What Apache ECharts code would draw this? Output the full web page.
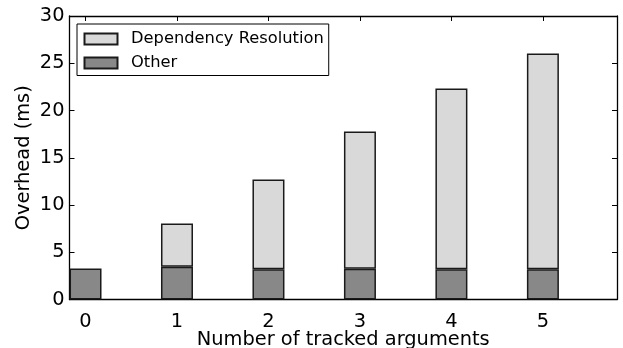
<!DOCTYPE html>
<html>
<head>
<meta charset="utf-8">
<script src="https://cdn.jsdelivr.net/npm/echarts@6/dist/echarts.min.js"></script>
<style>
  html, body { margin: 0; padding: 0; background: #fff; }
  #chart { width: 623px; height: 348px; }
</style>
</head>
<body>
<div id="chart"></div>
<script>
// Number of tracked arguments (x positions of the bars)
const argCounts = [0, 1, 2, 3, 4, 5];
// Overhead split into two stacked parts, in ms
const otherMs = [3.28, 3.47, 3.19, 3.26, 3.19, 3.19];
const dependencyMs = [null, 4.58, 9.51, 14.52, 19.14, 22.84];
// Axis ticks
const yTicks = [0, 5, 10, 15, 20, 25, 30];

const FONT = 'DejaVu Sans';
const INK = '#000';
const EDGE = '#1a1a1a';

const chart = echarts.init(document.getElementById('chart'), null, { renderer: 'canvas' });

const xCommon = {
  type: 'value',
  min: -0.175,
  max: 5.81,
  minInterval: 1,
  maxInterval: 1,
  splitLine: { show: false },
  axisLine: { show: true, onZero: false, lineStyle: { color: INK, width: 1.3 } },
  axisTick: { show: true, inside: true, length: 5, lineStyle: { color: INK, width: 1 } }
};
const yCommon = {
  type: 'value',
  min: yTicks[0],
  max: yTicks[yTicks.length - 1],
  interval: 5,
  splitLine: { show: false },
  axisLine: { show: true, onZero: false, lineStyle: { color: INK, width: 1.3 } },
  axisTick: { show: true, inside: true, length: 5, lineStyle: { color: INK, width: 1 } }
};

// Each point is [overhead, argument count]; the value comes first so the
// stack is computed on the overhead dimension.
function points(values) {
  return argCounts.map((x, i) => [values[i], x]);
}

chart.setOption({
  animation: false,
  textStyle: { fontFamily: FONT },
  grid: {
    left: 69.5, right: 6, top: 16, bottom: 48.5,
    containLabel: false,
    outerBoundsMode: 'none'
  },
  legend: {
    orient: 'vertical',
    left: 77,
    top: 24,
    padding: [7, 5, 4.5, 6.5],
    itemGap: 8,
    itemWidth: 33,
    itemHeight: 11,
    icon: 'rect',
    borderColor: INK,
    borderWidth: 1,
    textStyle: { fontFamily: FONT, fontSize: 16.3, color: INK, padding: [0, 0, 0, 8.5] },
    data: ['Dependency Resolution', 'Other']
  },
  xAxis: [
    Object.assign({}, xCommon, {
      position: 'bottom',
      name: 'Number of tracked arguments',
      nameLocation: 'middle',
      nameGap: 30.5,
      nameMoveOverlap: false,
      nameTextStyle: { fontFamily: FONT, fontSize: 19.4, color: INK },
      axisLabel: {
        show: true, margin: 13, fontFamily: FONT, fontSize: 19.4, color: INK,
        showMinLabel: false, showMaxLabel: false,
        formatter: v => (argCounts.indexOf(v) >= 0 ? String(v) : '')
      }
    }),
    Object.assign({}, xCommon, {
      position: 'top',
      axisLabel: { show: false }
    })
  ],
  yAxis: [
    Object.assign({}, yCommon, {
      position: 'left',
      name: 'Overhead (ms)',
      nameLocation: 'middle',
      nameGap: 36,
      nameMoveOverlap: false,
      nameTextStyle: { fontFamily: FONT, fontSize: 19.4, color: INK },
      axisLabel: { show: true, margin: 5, fontFamily: FONT, fontSize: 19.4, color: INK }
    }),
    Object.assign({}, yCommon, {
      position: 'right',
      axisLabel: { show: false }
    })
  ],
  series: [
    {
      name: 'Other',
      type: 'bar',
      stack: 'overhead',
      xAxisIndex: 0,
      yAxisIndex: 0,
      barWidth: 32,
      encode: { x: 1, y: 0 },
      itemStyle: { color: '#888888', borderColor: EDGE, borderWidth: 1.5 },
      data: points(otherMs)
    },
    {
      name: 'Dependency Resolution',
      type: 'bar',
      stack: 'overhead',
      xAxisIndex: 0,
      yAxisIndex: 0,
      barWidth: 32,
      encode: { x: 1, y: 0 },
      itemStyle: { color: '#d9d9d9', borderColor: EDGE, borderWidth: 1.5 },
      data: points(dependencyMs)
    }
  ]
});
</script>
</body>
</html>
